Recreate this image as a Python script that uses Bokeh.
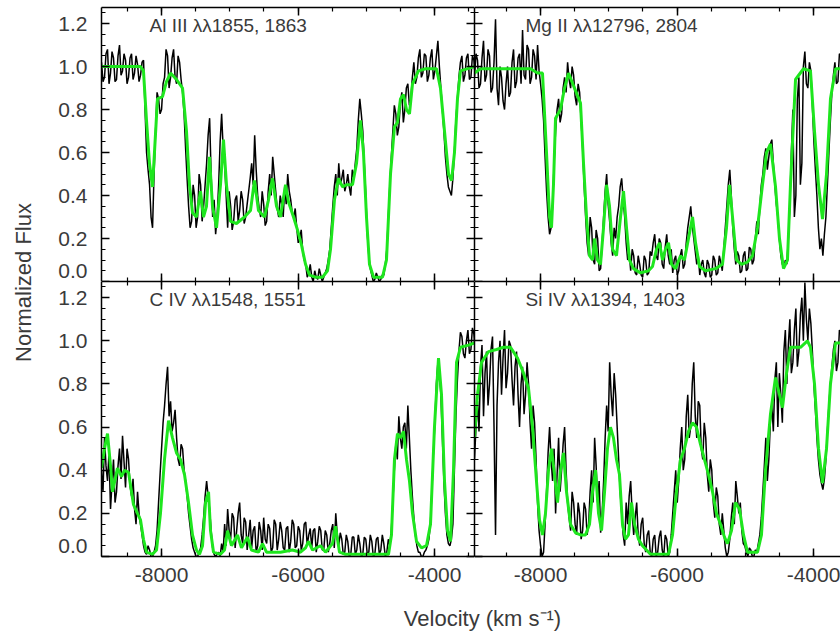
from bokeh.plotting import figure
from bokeh.layouts import row, column
from bokeh.models import Label, LinearAxis, FixedTicker, Range1d
from bokeh.embed import file_html
from bokeh.resources import INLINE

# ---------------- data ----------------
velocity_left = [
    -8880, -8858, -8836, -8814, -8792, -8770, -8748, -8726, -8704, -8682,
    -8660, -8638, -8616, -8594, -8572, -8550, -8528, -8506, -8484, -8462,
    -8440, -8418, -8396, -8374, -8352, -8330, -8308, -8286, -8264, -8242,
    -8220, -8198, -8176, -8154, -8132, -8110, -8088, -8066, -8044, -8022,
    -8000, -7978, -7956, -7934, -7912, -7890, -7868, -7846, -7824, -7802,
    -7780, -7758, -7736, -7714, -7692, -7670, -7648, -7626, -7604, -7582,
    -7560, -7538, -7516, -7494, -7472, -7450, -7428, -7406, -7384, -7362,
    -7340, -7318, -7296, -7274, -7252, -7230, -7208, -7186, -7164, -7142,
    -7120, -7098, -7076, -7054, -7032, -7010, -6988, -6966, -6944, -6922,
    -6900, -6878, -6856, -6834, -6812, -6790, -6768, -6746, -6724, -6702,
    -6680, -6658, -6636, -6614, -6592, -6570, -6548, -6526, -6504, -6482,
    -6460, -6438, -6416, -6394, -6372, -6350, -6328, -6306, -6284, -6262,
    -6240, -6218, -6196, -6174, -6152, -6130, -6108, -6086, -6064, -6042,
    -6020, -5998, -5976, -5954, -5932, -5910, -5888, -5866, -5844, -5822,
    -5800, -5778, -5756, -5734, -5712, -5690, -5668, -5646, -5624, -5602,
    -5580, -5558, -5536, -5514, -5492, -5470, -5448, -5426, -5404, -5382,
    -5360, -5338, -5316, -5294, -5272, -5250, -5228, -5206, -5184, -5162,
    -5140, -5118, -5096, -5074, -5052, -5030, -5008, -4986, -4964, -4942,
    -4920, -4898, -4876, -4854, -4832, -4810, -4788, -4766, -4744, -4722,
    -4700, -4678, -4656, -4634, -4612, -4590, -4568, -4546, -4524, -4502,
    -4480, -4458, -4436, -4414, -4392, -4370, -4348, -4326, -4304, -4282,
    -4260, -4238, -4216, -4194, -4172, -4150, -4128, -4106, -4084, -4062,
    -4040, -4018, -3996, -3974, -3952, -3930, -3908, -3886, -3864, -3842,
    -3820, -3798, -3776, -3754, -3732, -3710, -3688, -3666, -3644, -3622,
    -3600, -3578, -3556, -3534, -3512, -3490, -3468, -3446, -3424, -3402,
    -3380]

velocity_right = [
    -8967, -8945, -8923, -8901, -8879, -8857, -8835, -8813, -8791, -8769,
    -8747, -8725, -8703, -8681, -8659, -8637, -8615, -8593, -8571, -8549,
    -8527, -8505, -8483, -8461, -8439, -8417, -8395, -8373, -8351, -8329,
    -8307, -8285, -8263, -8241, -8219, -8197, -8175, -8153, -8131, -8109,
    -8087, -8065, -8043, -8021, -7999, -7977, -7955, -7933, -7911, -7889,
    -7867, -7845, -7823, -7801, -7779, -7757, -7735, -7713, -7691, -7669,
    -7647, -7625, -7603, -7581, -7559, -7537, -7515, -7493, -7471, -7449,
    -7427, -7405, -7383, -7361, -7339, -7317, -7295, -7273, -7251, -7229,
    -7207, -7185, -7163, -7141, -7119, -7097, -7075, -7053, -7031, -7009,
    -6987, -6965, -6943, -6921, -6899, -6877, -6855, -6833, -6811, -6789,
    -6767, -6745, -6723, -6701, -6679, -6657, -6635, -6613, -6591, -6569,
    -6547, -6525, -6503, -6481, -6459, -6437, -6415, -6393, -6371, -6349,
    -6327, -6305, -6283, -6261, -6239, -6217, -6195, -6173, -6151, -6129,
    -6107, -6085, -6063, -6041, -6019, -5997, -5975, -5953, -5931, -5909,
    -5887, -5865, -5843, -5821, -5799, -5777, -5755, -5733, -5711, -5689,
    -5667, -5645, -5623, -5601, -5579, -5557, -5535, -5513, -5491, -5469,
    -5447, -5425, -5403, -5381, -5359, -5337, -5315, -5293, -5271, -5249,
    -5227, -5205, -5183, -5161, -5139, -5117, -5095, -5073, -5051, -5029,
    -5007, -4985, -4963, -4941, -4919, -4897, -4875, -4853, -4831, -4809,
    -4787, -4765, -4743, -4721, -4699, -4677, -4655, -4633, -4611, -4589,
    -4567, -4545, -4523, -4501, -4479, -4457, -4435, -4413, -4391, -4369,
    -4347, -4325, -4303, -4281, -4259, -4237, -4215, -4193, -4171, -4149,
    -4127, -4105, -4083, -4061, -4039, -4017, -3995, -3973, -3951, -3929,
    -3907, -3885, -3863, -3841, -3819, -3797, -3775, -3753, -3731, -3709,
    -3687, -3665, -3643, -3621, -3599, -3577, -3555, -3533, -3511, -3489,
    -3467]

al3_flux = [
    1.02, 0.93, 0.95, 1.06, 1.08, 0.92, 0.97, 1.07, 1.04, 0.93,
    0.94, 1.05, 1.10, 0.96, 0.98, 1.06, 1.03, 0.92, 0.95, 1.04,
    1.06, 0.94, 0.97, 1.05, 1.01, 0.93, 0.96, 1.02, 1.03, 0.80,
    0.60, 0.52, 0.45, 0.30, 0.25, 0.50, 0.70, 0.88, 0.85, 0.78,
    0.80, 0.92, 0.95, 1.08, 1.05, 0.90, 0.95, 1.04, 1.08, 0.95,
    0.92, 1.05, 1.02, 0.94, 0.88, 0.78, 0.62, 0.48, 0.35, 0.25,
    0.28, 0.45, 0.40, 0.25, 0.30, 0.50, 0.45, 0.28, 0.35, 0.45,
    0.55, 0.68, 0.76, 0.50, 0.30, 0.38, 0.22, 0.30, 0.45, 0.65,
    0.78, 0.62, 0.55, 0.40, 0.25, 0.42, 0.35, 0.24, 0.28, 0.38,
    0.40, 0.28, 0.33, 0.42, 0.38, 0.27, 0.30, 0.36, 0.42, 0.48,
    0.55, 0.45, 0.68, 0.52, 0.40, 0.34, 0.30, 0.42, 0.36, 0.26,
    0.28, 0.42, 0.50, 0.40, 0.58, 0.50, 0.42, 0.34, 0.30, 0.40,
    0.36, 0.30, 0.44, 0.36, 0.50, 0.42, 0.38, 0.32, 0.30, 0.34,
    0.25, 0.18, 0.20, 0.24, 0.14, 0.10, 0.08, 0.02, 0.04, 0.08,
    0.02, 0.00, 0.05, 0.02, 0.01, 0.06, 0.03, 0.00, 0.02, 0.04,
    0.06, 0.10, 0.15, 0.25, 0.35, 0.44, 0.50, 0.40, 0.55, 0.45,
    0.48, 0.52, 0.42, 0.45, 0.50, 0.44, 0.40, 0.52, 0.48, 0.55,
    0.62, 0.75, 0.85, 0.78, 0.70, 0.55, 0.40, 0.22, 0.12, 0.06,
    0.03, 0.00, 0.01, 0.04, 0.02, 0.00, 0.01, 0.03, 0.03, 0.08,
    0.15, 0.30, 0.45, 0.58, 0.70, 0.82, 0.78, 0.68, 0.72, 0.83,
    0.88, 0.74, 0.80, 0.90, 0.92, 0.82, 0.85, 0.95, 1.02, 0.92,
    0.95, 1.04, 1.08, 0.95, 0.97, 1.06, 1.05, 0.93, 0.96, 1.04,
    1.08, 0.94, 0.98, 1.05, 1.12, 1.00, 0.90, 0.80, 0.70, 0.58,
    0.50, 0.44, 0.42, 0.40, 0.48, 0.60, 0.75, 0.85, 0.95, 1.02,
    1.05, 0.93, 0.96, 1.04, 1.06, 0.94, 0.95, 1.05, 1.03, 0.94,
    0.98]

mg2_flux = [
    0.95, 1.06, 1.03, 0.90, 0.92, 1.04, 1.12, 0.93, 0.96, 1.08,
    1.05, 0.88, 0.90, 1.02, 1.22, 0.90, 0.82, 1.00, 0.95, 0.84,
    0.80, 0.92, 1.00, 0.86, 0.88, 1.02, 1.08, 0.90, 0.93, 1.04,
    1.06, 0.92, 1.17, 0.96, 0.94, 1.10, 1.08, 0.92, 0.95, 1.08,
    1.05, 0.94, 1.10, 0.98, 0.92, 0.85, 0.75, 0.58, 0.42, 0.30,
    0.22, 0.25, 0.35, 0.55, 0.70, 0.80, 0.85, 0.74, 0.78, 0.90,
    0.95, 0.88, 1.02, 0.94, 0.90, 1.00, 0.96, 0.86, 0.82, 0.92,
    0.88, 0.75, 0.62, 0.45, 0.30, 0.18, 0.12, 0.30, 0.25, 0.10,
    0.08, 0.24, 0.20, 0.05, 0.06, 0.18, 0.30, 0.42, 0.50, 0.36,
    0.28, 0.18, 0.12, 0.25, 0.20, 0.30, 0.35, 0.44, 0.48, 0.38,
    0.30, 0.18, 0.10, 0.14, 0.05, 0.15, 0.12, 0.04, 0.03, 0.12,
    0.08, 0.03, 0.02, 0.12, 0.10, 0.03, 0.04, 0.14, 0.12, 0.18,
    0.22, 0.12, 0.10, 0.20, 0.18, 0.08, 0.06, 0.16, 0.22, 0.12,
    0.08, 0.15, 0.04, 0.10, 0.12, 0.03, 0.05, 0.12, 0.15, 0.06,
    0.08, 0.18, 0.25, 0.30, 0.35, 0.26, 0.20, 0.14, 0.08, 0.12,
    0.03, 0.08, 0.10, 0.04, 0.02, 0.10, 0.08, 0.02, 0.03, 0.12,
    0.10, 0.03, 0.04, 0.12, 0.09, 0.05, 0.15, 0.25, 0.35, 0.45,
    0.52, 0.40, 0.25, 0.15, 0.08, 0.14, 0.12, 0.04, 0.05, 0.12,
    0.14, 0.05, 0.06, 0.16, 0.15, 0.08, 0.10, 0.20, 0.28, 0.22,
    0.35, 0.45, 0.50, 0.58, 0.62, 0.52, 0.58, 0.64, 0.66, 0.55,
    0.45, 0.36, 0.30, 0.20, 0.12, 0.08, 0.06, 0.10, 0.08, 0.20,
    0.35, 0.60, 0.80, 0.30, 0.40, 0.85, 0.95, 0.45, 0.55, 1.00,
    1.07, 0.92, 0.90, 1.02, 0.98, 0.82, 0.65, 0.52, 0.40, 0.25,
    0.15, 0.20, 0.12, 0.22, 0.30, 0.45, 0.60, 0.75, 0.88, 0.96,
    1.02, 0.92, 0.93, 1.06, 1.05, 0.94, 0.97, 1.04, 1.00, 0.95,
    0.98]

c4_flux = [
    0.40, 0.30, 0.55, 0.42, 0.35, 0.48, 0.22, 0.34, 0.45, 0.25,
    0.30, 0.42, 0.50, 0.36, 0.56, 0.44, 0.32, 0.50, 0.45, 0.33,
    0.28, 0.36, 0.22, 0.15, 0.30, 0.20, 0.15, 0.10, 0.05, 0.02,
    0.01, 0.05, 0.03, 0.00, 0.00, 0.02, 0.05, 0.12, 0.25, 0.38,
    0.50, 0.62, 0.70, 0.80, 0.88, 0.65, 0.72, 0.58, 0.62, 0.68,
    0.55, 0.45, 0.42, 0.52, 0.50, 0.40, 0.35, 0.28, 0.20, 0.14,
    0.08, 0.04, 0.02, 0.00, 0.00, 0.02, 0.04, 0.10, 0.18, 0.28,
    0.35, 0.28, 0.22, 0.12, 0.04, 0.01, 0.00, 0.01, 0.02, 0.00,
    0.06, 0.02, 0.15, 0.05, 0.22, 0.12, 0.08, 0.20, 0.18, 0.04,
    0.12, 0.20, 0.25, 0.10, 0.06, 0.18, 0.16, 0.03, 0.10, 0.17,
    0.04, 0.12, 0.14, 0.02, 0.05, 0.16, 0.12, 0.03, 0.18, 0.08,
    0.06, 0.15, 0.13, 0.02, 0.04, 0.17, 0.15, 0.03, 0.08, 0.16,
    0.12, 0.04, 0.03, 0.13, 0.14, 0.02, 0.07, 0.17, 0.15, 0.04,
    0.05, 0.14, 0.12, 0.03, 0.06, 0.15, 0.16, 0.05, 0.10, 0.13,
    0.04, 0.12, 0.13, 0.02, 0.07, 0.14, 0.12, 0.03, 0.03, 0.12,
    0.10, 0.02, 0.06, 0.12, 0.15, 0.04, 0.20, 0.10, 0.05, 0.11,
    0.08, 0.01, 0.02, 0.10, 0.07, 0.00, 0.01, 0.09, 0.09, 0.01,
    0.03, 0.10, 0.06, 0.00, 0.01, 0.09, 0.08, 0.01, 0.02, 0.10,
    0.07, 0.00, 0.01, 0.08, 0.09, 0.01, 0.03, 0.10, 0.06, 0.00,
    0.02, 0.08, 0.05, 0.12, 0.25, 0.40, 0.52, 0.45, 0.65, 0.55,
    0.50, 0.60, 0.62, 0.50, 0.70, 0.55, 0.40, 0.28, 0.18, 0.10,
    0.05, 0.02, 0.02, 0.00, 0.00, 0.02, 0.03, 0.05, 0.08, 0.15,
    0.30, 0.48, 0.62, 0.80, 0.90, 0.85, 0.75, 0.55, 0.35, 0.20,
    0.10, 0.06, 0.05, 0.08, 0.15, 0.40, 0.65, 0.82, 0.95, 1.04,
    1.02, 0.94, 0.92, 1.00, 1.05, 0.94, 0.96, 1.06, 1.03, 0.95,
    0.98]

si4_flux = [
    0.45, 0.60, 0.72, 0.58, 0.88, 0.98, 0.65, 0.85, 0.95, 0.70,
    0.80, 0.96, 1.02, 0.60, 0.10, 0.70, 0.90, 1.00, 0.75, 0.92,
    1.05, 0.78, 0.85, 1.00, 0.98, 0.82, 0.70, 0.88, 0.95, 0.75,
    0.60, 0.80, 0.88, 0.66, 0.75, 0.90, 0.80, 0.62, 0.50, 0.70,
    0.62, 0.45, 0.25, 0.12, 0.05, 0.00, 0.02, 0.15, 0.30, 0.48,
    0.60, 0.45, 0.35, 0.50, 0.20, 0.38, 0.55, 0.30, 0.40, 0.52,
    0.60, 0.40, 0.25, 0.18, 0.12, 0.30, 0.25, 0.15, 0.10, 0.25,
    0.20, 0.08, 0.12, 0.25, 0.22, 0.10, 0.15, 0.30, 0.40, 0.25,
    0.55, 0.42, 0.25, 0.35, 0.11, 0.20, 0.35, 0.55, 0.70, 0.58,
    0.90, 0.75, 0.65, 0.85, 0.75, 0.60, 0.45, 0.30, 0.20, 0.10,
    0.05, 0.25, 0.15, 0.28, 0.35, 0.20, 0.10, 0.18, 0.25, 0.10,
    0.05, 0.15, 0.18, 0.06, 0.02, 0.10, 0.12, 0.02, 0.00, 0.08,
    0.10, 0.00, 0.02, 0.09, 0.12, 0.03, 0.00, 0.10, 0.08, 0.00,
    0.02, 0.10, 0.20, 0.30, 0.40, 0.25, 0.35, 0.50, 0.60, 0.40,
    0.45, 0.65, 0.75, 0.55, 0.60, 0.80, 0.90, 0.65, 0.55, 0.72,
    0.70, 0.50, 0.45, 0.62, 0.55, 0.38, 0.30, 0.45, 0.40, 0.25,
    0.18, 0.32, 0.28, 0.15, 0.10, 0.20, 0.12, 0.04, 0.00, 0.02,
    0.08, 0.18, 0.25, 0.15, 0.35, 0.28, 0.20, 0.25, 0.12, 0.06,
    0.05, 0.02, 0.00, 0.04, 0.03, 0.00, 0.00, 0.03, 0.02, 0.06,
    0.10, 0.18, 0.30, 0.42, 0.55, 0.35, 0.45, 0.62, 0.70, 0.58,
    0.82, 0.90, 0.60, 0.85, 0.75, 0.62, 0.95, 1.05, 0.80, 0.98,
    1.10, 0.85, 0.90, 1.05, 1.15, 0.88, 0.95, 1.12, 1.20, 1.00,
    1.27, 1.10, 1.00, 1.15, 1.08, 0.95, 0.80, 0.68, 0.55, 0.45,
    0.38, 0.34, 0.31, 0.36, 0.45, 0.58, 0.70, 0.80, 0.88, 0.96,
    1.00, 0.86, 0.90, 1.05, 1.03, 0.92, 0.95, 1.04, 1.00, 0.94,
    0.97]

# model fits: (velocity, normalized flux)
al3_model = [
    (-8880, 1.0), (-8309, 1.0), (-8265, 0.98), (-8221, 0.75), (-8177, 0.55),
    (-8133, 0.44), (-8104, 0.6), (-8060, 0.85), (-7986, 0.86), (-7928, 0.93),
    (-7869, 0.97), (-7781, 0.94), (-7693, 0.9), (-7635, 0.7), (-7591, 0.45),
    (-7547, 0.32), (-7488, 0.3), (-7430, 0.42), (-7386, 0.3), (-7342, 0.35),
    (-7298, 0.58), (-7254, 0.35), (-7195, 0.25), (-7137, 0.45), (-7093, 0.66),
    (-7049, 0.45), (-6990, 0.28), (-6902, 0.27), (-6785, 0.3), (-6697, 0.33),
    (-6639, 0.47), (-6580, 0.33), (-6492, 0.3), (-6433, 0.38), (-6375, 0.48),
    (-6316, 0.35), (-6258, 0.3), (-6184, 0.45), (-6140, 0.37), (-6067, 0.3),
    (-6009, 0.24), (-5950, 0.17), (-5891, 0.08), (-5833, 0.03), (-5745, 0.02),
    (-5642, 0.02), (-5569, 0.05), (-5525, 0.15), (-5467, 0.38), (-5408, 0.48),
    (-5349, 0.44), (-5291, 0.45), (-5203, 0.45), (-5144, 0.55), (-5086, 0.75),
    (-5042, 0.6), (-4998, 0.3), (-4954, 0.08), (-4895, 0.02), (-4763, 0.02),
    (-4705, 0.1), (-4646, 0.5), (-4588, 0.72), (-4544, 0.74), (-4500, 0.85),
    (-4456, 0.87), (-4412, 0.8), (-4368, 0.78), (-4324, 0.92), (-4236, 0.98),
    (-4133, 0.99), (-3972, 0.99), (-3914, 0.9), (-3855, 0.7), (-3796, 0.5),
    (-3752, 0.47), (-3709, 0.6), (-3665, 0.85), (-3621, 0.98), (-3415, 1.0)]

mg2_model = [
    (-8967, 0.97), (-8879, 0.99), (-8147, 0.99), (-8044, 0.97), (-7971, 0.97),
    (-7912, 0.6), (-7868, 0.3), (-7839, 0.25), (-7810, 0.45), (-7780, 0.76),
    (-7707, 0.8), (-7648, 0.9), (-7590, 0.97), (-7502, 0.9), (-7414, 0.83),
    (-7370, 0.55), (-7326, 0.3), (-7282, 0.12), (-7238, 0.1), (-7209, 0.2),
    (-7165, 0.1), (-7121, 0.08), (-7077, 0.25), (-7033, 0.45), (-6989, 0.35),
    (-6945, 0.15), (-6887, 0.12), (-6828, 0.3), (-6784, 0.42), (-6740, 0.25),
    (-6696, 0.1), (-6638, 0.06), (-6535, 0.04), (-6418, 0.05), (-6359, 0.07),
    (-6301, 0.15), (-6257, 0.18), (-6213, 0.1), (-6169, 0.15), (-6125, 0.18),
    (-6081, 0.08), (-6022, 0.06), (-5949, 0.12), (-5891, 0.1), (-5832, 0.2),
    (-5773, 0.3), (-5729, 0.18), (-5671, 0.07), (-5583, 0.05), (-5436, 0.06),
    (-5334, 0.08), (-5275, 0.25), (-5231, 0.45), (-5187, 0.3), (-5129, 0.1),
    (-5055, 0.08), (-4968, 0.09), (-4894, 0.12), (-4821, 0.25), (-4748, 0.45),
    (-4689, 0.6), (-4631, 0.64), (-4557, 0.44), (-4499, 0.2), (-4440, 0.06),
    (-4382, 0.1), (-4338, 0.45), (-4264, 0.94), (-4147, 0.99), (-4045, 0.98),
    (-3986, 0.7), (-3927, 0.45), (-3869, 0.29), (-3810, 0.5), (-3752, 0.85),
    (-3678, 0.99), (-3503, 0.99)]

c4_model = [
    (-8880, 0.41), (-8836, 0.5), (-8792, 0.57), (-8748, 0.42), (-8719, 0.30),
    (-8646, 0.41), (-8587, 0.37), (-8543, 0.40), (-8484, 0.39), (-8411, 0.24),
    (-8353, 0.2), (-8309, 0.17), (-8265, 0.08), (-8221, 0.02), (-8133, 0.01),
    (-8074, 0.03), (-8016, 0.2), (-7957, 0.45), (-7898, 0.63), (-7840, 0.55),
    (-7781, 0.48), (-7723, 0.45), (-7664, 0.38), (-7605, 0.25), (-7547, 0.1),
    (-7488, 0.03), (-7444, 0.01), (-7400, 0.05), (-7356, 0.25), (-7312, 0.3),
    (-7283, 0.12), (-7239, 0.02), (-7137, 0.01), (-7078, 0.03), (-7034, 0.12),
    (-6976, 0.05), (-6888, 0.1), (-6829, 0.04), (-6741, 0.09), (-6683, 0.03),
    (-6580, 0.02), (-6521, 0.06), (-6463, 0.02), (-6258, 0.02), (-6082, 0.03),
    (-5965, 0.02), (-5891, 0.04), (-5847, 0.07), (-5789, 0.03), (-5672, 0.05),
    (-5598, 0.02), (-5496, 0.06), (-5452, 0.14), (-5393, 0.02), (-5305, 0.01),
    (-4675, 0.01), (-4632, 0.1), (-4588, 0.45), (-4544, 0.57), (-4500, 0.55),
    (-4456, 0.58), (-4412, 0.45), (-4368, 0.35), (-4324, 0.2), (-4265, 0.07),
    (-4192, 0.04), (-4119, 0.05), (-4060, 0.15), (-4002, 0.6), (-3943, 0.92),
    (-3899, 0.75), (-3855, 0.35), (-3811, 0.12), (-3767, 0.07), (-3723, 0.4),
    (-3679, 0.9), (-3621, 0.97), (-3503, 0.98), (-3415, 0.99)]

si4_model = [
    (-8967, 0.55), (-8923, 0.75), (-8864, 0.9), (-8762, 0.95), (-8645, 0.96),
    (-8542, 0.97), (-8440, 0.97), (-8337, 0.92), (-8249, 0.85), (-8176, 0.78),
    (-8117, 0.6), (-8059, 0.35), (-8015, 0.17), (-7971, 0.1), (-7927, 0.2),
    (-7883, 0.4), (-7839, 0.5), (-7795, 0.38), (-7751, 0.25), (-7707, 0.4),
    (-7663, 0.48), (-7619, 0.3), (-7561, 0.15), (-7487, 0.11), (-7414, 0.1),
    (-7341, 0.1), (-7282, 0.15), (-7238, 0.3), (-7194, 0.4), (-7150, 0.2),
    (-7106, 0.12), (-7062, 0.3), (-7019, 0.5), (-6975, 0.6), (-6931, 0.55),
    (-6887, 0.45), (-6843, 0.38), (-6799, 0.15), (-6755, 0.08), (-6711, 0.1),
    (-6667, 0.25), (-6623, 0.15), (-6564, 0.08), (-6506, 0.05), (-6447, 0.03),
    (-6389, 0.01), (-6125, 0.01), (-6066, 0.1), (-6008, 0.3), (-5949, 0.45),
    (-5891, 0.5), (-5832, 0.58), (-5773, 0.62), (-5715, 0.6), (-5656, 0.52),
    (-5598, 0.45), (-5539, 0.38), (-5480, 0.3), (-5422, 0.2), (-5363, 0.15),
    (-5305, 0.09), (-5261, 0.06), (-5202, 0.12), (-5143, 0.25), (-5085, 0.22),
    (-5026, 0.1), (-4968, 0.02), (-4821, 0.02), (-4763, 0.1), (-4704, 0.4),
    (-4631, 0.66), (-4557, 0.83), (-4499, 0.75), (-4455, 0.69), (-4396, 0.85),
    (-4338, 0.97), (-4191, 0.97), (-4089, 1.0), (-4045, 0.97), (-3986, 0.8),
    (-3927, 0.5), (-3869, 0.34), (-3810, 0.5), (-3752, 0.8), (-3678, 0.99),
    (-3503, 0.99)]

titles = ["Al III \u03bb\u03bb1855, 1863", "Mg II \u03bb\u03bb12796, 2804",
          "C IV \u03bb\u03bb1548, 1551", "Si IV \u03bb\u03bb1394, 1403"]

x_major = [-10000, -8000, -6000, -4000, -2000]
x_tick_labels = ["-10000", "-8000", "-6000", "-4000", "-2000"]
y_major = [0, 0.2, 0.4, 0.6, 0.8, 1.0, 1.2]
y_tick_labels = ["0.0", "0.2", "0.4", "0.6", "0.8", "1.0", "1.2"]
x_label = "Velocity (km s\u207b\u00b9)"
y_label = "Normalized Flux"

# ---------------- styling / layout ----------------
FONT = "Liberation Sans"
TXT = "#3a3a3a"
GREEN = "#1ee61e"
LEFT_START, RIGHT_START = -8880, -8967
KPP = 14.65                      # km/s per pixel
PANEL_W, RIGHT_W = 373, 366
x_minor = [-10000 + 500 * k for k in range(17)]
y_minor = [round(0.05 * k, 2) for k in range(26)]
ZERO_LIFT = 0.047     # the "0.0" label sits a little above the bottom border


def style_ticks(ax):
    ax.axis_line_width = 1.5
    ax.axis_line_color = "black"
    ax.major_tick_in = 8
    ax.major_tick_out = 0
    ax.minor_tick_in = 4
    ax.minor_tick_out = 0
    ax.major_tick_line_width = 1.5
    ax.minor_tick_line_width = 1.2
    ax.major_tick_line_color = "black"
    ax.minor_tick_line_color = "black"


def add_axis(p, side, labels):
    ax = LinearAxis()
    if side in ("below", "above"):
        ax.ticker = FixedTicker(ticks=x_major, minor_ticks=x_minor)
        ax.major_label_overrides = {float(t): s for t, s in zip(x_major, x_tick_labels)}
    else:
        ax.ticker = FixedTicker(ticks=y_major, minor_ticks=y_minor)
        ax.major_label_overrides = {float(t): s for t, s in zip(y_major, y_tick_labels)}
    style_ticks(ax)
    if labels:
        ax.major_label_text_font = FONT
        ax.major_label_text_font_size = "21px"
        ax.major_label_text_color = TXT
        ax.major_label_standoff = 11
    else:
        ax.major_label_text_font_size = "0px"
        ax.major_label_standoff = 0
    p.add_layout(ax, side)


def add_y_labels(p):
    pos = [ZERO_LIFT] + y_major[1:]
    ax = LinearAxis(ticker=FixedTicker(ticks=pos, minor_ticks=[]))
    ax.major_label_overrides = {float(t): s for t, s in zip(pos, y_tick_labels)}
    ax.axis_line_color = None
    ax.major_tick_in = 0
    ax.major_tick_out = 0
    ax.minor_tick_in = 0
    ax.minor_tick_out = 0
    ax.major_tick_line_color = None
    ax.major_label_text_font = FONT
    ax.major_label_text_font_size = "21px"
    ax.major_label_text_color = TXT
    ax.major_label_standoff = 14
    p.add_layout(ax, "left")


def panel(vel, flux, model, title, is_left, is_top):
    fw = PANEL_W if is_left else RIGHT_W
    fh = 274 if is_top else 275
    x0 = LEFT_START if is_left else RIGHT_START
    p = figure(frame_width=fw, frame_height=fh,
               x_range=Range1d(x0, x0 + fw * KPP), y_range=Range1d(0, 1.275),
               output_backend="svg", toolbar_location=None,
               x_axis_location=None, y_axis_location=None,
               min_border_left=61 if is_left else 0, min_border_right=0,
               min_border_top=7 if is_top else 0,
               min_border_bottom=0 if is_top else 40)
    p.outline_line_color = None
    p.grid.grid_line_color = None
    n = min(len(vel), len(flux))
    p.line(vel[:n], flux[:n], line_color="black", line_width=1.5)
    p.line([m[0] for m in model], [m[1] for m in model], line_color=GREEN, line_width=3)
    add_axis(p, "left", False)
    add_axis(p, "above", False)
    add_axis(p, "below", not is_top)
    if is_left:
        add_axis(p, "right", False)
        add_y_labels(p)
    p.add_layout(Label(x=x0 + (48 if is_left else 51) * KPP, y=1.19, text=title,
                       text_baseline="middle", text_font=FONT,
                       text_font_size="19px", text_color=TXT))
    return p


tl = panel(velocity_left, al3_flux, al3_model, titles[0], True, True)
tr = panel(velocity_right, mg2_flux, mg2_model, titles[1], False, True)
bl = panel(velocity_left, c4_flux, c4_model, titles[2], True, False)
br = panel(velocity_right, si4_flux, si4_model, titles[3], False, False)

ylab = figure(width=40, height=596, x_range=Range1d(0, 40), y_range=Range1d(0, 596),
              min_border=0, toolbar_location=None, output_backend="svg",
              x_axis_location=None, y_axis_location=None)
ylab.outline_line_color = None
ylab.grid.grid_line_color = None
ylab.add_layout(Label(x=23, y=314, text=y_label, angle=90, angle_units="deg",
                      text_align="center", text_baseline="middle", text_font=FONT,
                      text_font_size="22px", text_color=TXT))

xlab = figure(width=840, height=41, x_range=Range1d(0, 840), y_range=Range1d(0, 41),
              min_border=0, toolbar_location=None, output_backend="svg",
              x_axis_location=None, y_axis_location=None)
xlab.outline_line_color = None
xlab.grid.grid_line_color = None
xlab.add_layout(Label(x=482, y=19, text=x_label, text_align="center",
                      text_baseline="middle", text_font=FONT,
                      text_font_size="22px", text_color=TXT))

page = column(row(ylab, column(row(tl, tr), row(bl, br))), xlab)

open("out.html", "w").write(file_html(page, INLINE, title="Normalized Flux"))
